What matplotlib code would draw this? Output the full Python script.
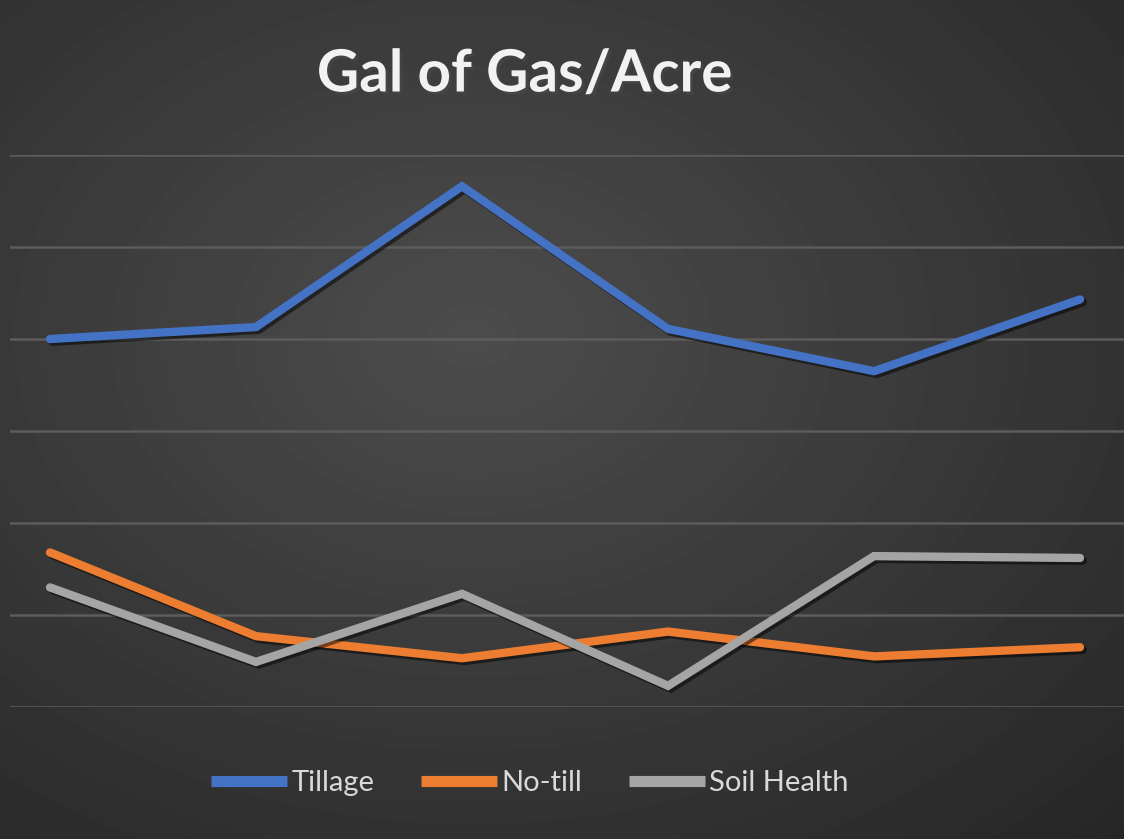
import matplotlib.pyplot as plt
import matplotlib.patheffects as pe
import numpy as np

periods = [1, 2, 3, 4, 5, 6]
tillage = [4.00, 4.13, 5.66, 4.11, 3.65, 4.43]
no_till = [1.68, 0.77, 0.53, 0.82, 0.55, 0.65]
soil_health = [1.30, 0.49, 1.23, 0.23, 1.64, 1.62]
series_names = ['Tillage', 'No-till', 'Soil Health']
colors = ['#4472C4', '#ED7D31', '#A5A5A5']

W, H = 1124, 839
fig = plt.figure(figsize=(W / 100, H / 100), dpi=100)

# radial gradient background
bg = fig.add_axes([0, 0, 1, 1])
yy, xx = np.mgrid[0:H, 0:W]
r = np.sqrt(((xx - W * 0.42) / W) ** 2 + ((yy - H * 0.4) / H) ** 2)
shade = 0.30 - 0.18 * r
bg.imshow(shade, cmap='gray', vmin=0, vmax=1, aspect='auto', extent=[0, 1, 0, 1])
bg.set_axis_off()

ax = fig.add_axes([10 / W, 1 - 707 / H, 1 - 10 / W, (707 - 155) / H])
ax.patch.set_alpha(0)
ax.set_xlim(-40 / 206, 1074 / 206)
ax.set_ylim(0, 6)
ax.set_yticks(range(7))
ax.grid(axis='y', color='#5c5c5c', linewidth=1.8)
ax.tick_params(left=False, bottom=False, labelleft=False, labelbottom=False)
for s in ax.spines.values():
    s.set_visible(False)

x = np.arange(len(periods))
shadow = [pe.SimpleLineShadow(offset=(2, -2), shadow_color='black', alpha=0.5), pe.Normal()]
for vals, name, c in zip([tillage, no_till, soil_health], series_names, colors):
    ax.plot(x, vals, color=c, linewidth=6, label=name, solid_capstyle='round',
            solid_joinstyle='miter', path_effects=shadow, clip_on=False)

fig.text(525 / W, 1 - 75 / H, 'Gal of Gas/Acre', ha='center', va='center',
         fontsize=42, fontweight='bold', family='Lato', color='#f2f2f2',
         path_effects=[pe.withSimplePatchShadow(offset=(2, -2), alpha=0.6)])

leg = fig.legend(loc='center', bbox_to_anchor=(530 / W, 1 - 783 / H), ncol=3, frameon=False,
                 handlelength=2.6, handletextpad=0.15, columnspacing=1.6,
                 prop={'family': 'Lato', 'size': 21})
for t in leg.get_texts():
    t.set_color('#d9d9d9')
for h in leg.legend_handles:
    h.set_linewidth(8)
    h.set_solid_capstyle('butt')
    h.set_path_effects([])

fig.savefig('out.png', dpi=100)
